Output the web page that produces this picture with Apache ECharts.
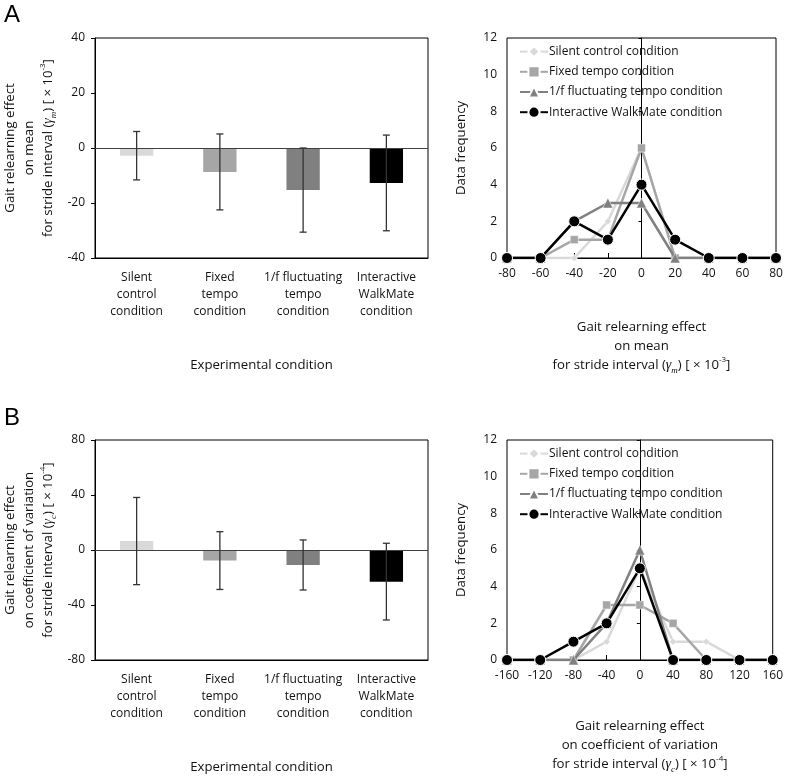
<!DOCTYPE html>
<html>
<head>
<meta charset="utf-8">
<script src="https://cdn.jsdelivr.net/npm/echarts@6/dist/echarts.min.js"></script>
<style>
html,body{margin:0;padding:0;background:#fff;}
#c{width:786px;height:780px;}
</style>
</head>
<body>
<div id="c"></div>
<script>
// ---------- data ----------
const categories = ['Silent\ncontrol\ncondition', 'Fixed\ntempo\ncondition', '1/f fluctuating\ntempo\ncondition', 'Interactive\nWalkMate\ncondition'];
const barColors = ['#d9d9d9', '#a6a6a6', '#808080', '#000000'];
// Panel A (mean, x10^-3)
const meanA = [-2.8, -8.7, -15.3, -12.7];
const sdA = [8.8, 13.8, 15.3, 17.4];
// Panel B (coefficient of variation, x10^-4)
const meanB = [6.5, -7.7, -10.9, -23.0];
const sdB = [31.7, 21.0, 18.2, 27.9];

const seriesNames = ['Silent control condition', 'Fixed tempo condition', '1/f fluctuating tempo condition', 'Interactive WalkMate condition'];
const lineColors = ['#d9d9d9', '#a6a6a6', '#808080', '#000000'];
const symbols = ['diamond', 'rect', 'triangle', 'circle'];
const symbolSizes = [7, 8, 10, 11];

const binsA = [-80, -60, -40, -20, 0, 20, 40, 60, 80];
const freqA_silent = [0, 0, 0, 2, 6, 0, 0, 0, 0];
const freqA_fixed  = [0, 0, 1, 1, 6, 0, 0, 0, 0];
const freqA_fluct  = [0, 0, 2, 3, 3, 0, 0, 0, 0];
const freqA_walk   = [0, 0, 2, 1, 4, 1, 0, 0, 0];

const binsB = [-160, -120, -80, -40, 0, 40, 80, 120, 160];
const freqB_silent = [0, 0, 0, 1, 5, 1, 1, 0, 0];
const freqB_fixed  = [0, 0, 0, 3, 3, 2, 0, 0, 0];
const freqB_fluct  = [0, 0, 0, 2, 6, 0, 0, 0, 0];
const freqB_walk   = [0, 0, 1, 2, 5, 0, 0, 0, 0];

// ---------- styling ----------
const FONT = 'Open Sans';
const TXT = '#111';
const FS = 12;     // ticks, categories, legend
const FT = 13.2;   // axis titles

const chart = echarts.init(document.getElementById('c'), null, {renderer: 'canvas'});

const rich = {
  n: {fontFamily: FONT, fontSize: FT, lineHeight: 19, color: TXT},
  g: {fontFamily: 'Liberation Serif', fontStyle: 'italic', fontSize: 14, lineHeight: 19, color: TXT},
  s: {fontFamily: 'Liberation Serif', fontStyle: 'italic', fontSize: 9, lineHeight: 9, verticalAlign: 'bottom', color: TXT},
  p: {fontFamily: FONT, fontSize: 8, lineHeight: 9, verticalAlign: 'top', color: TXT}
};

const nameMeanA = '{n|Gait relearning effect}\n{n|on mean}\n{n|for stride interval (}{g|γ}{s|m}{n|) [ × 10}{p|-3}{n|]}';
const nameCvB = '{n|Gait relearning effect}\n{n|on coefficient of variation}\n{n|for stride interval (}{g|γ}{s|c}{n|) [ × 10}{p|-4}{n|]}';

const grids = [
  {left: 95, top: 38, width: 333, height: 220},
  {left: 507, top: 38, width: 269, height: 220},
  {left: 95, top: 440, width: 333, height: 220},
  {left: 507, top: 440, width: 269, height: 220}
].map(g => Object.assign({show: true, borderColor: '#000', borderWidth: 1, backgroundColor: 'transparent', containLabel: false}, g));

function barXAxis(gi) {
  return {
    type: 'category', gridIndex: gi, data: categories,
    axisLine: {show: true, onZero: false, lineStyle: {color: '#000', width: 1}},
    axisTick: {show: false},
    axisLabel: {color: TXT, fontFamily: FONT, fontSize: FS, lineHeight: 17, margin: 11, interval: 0},
    name: 'Experimental condition', nameLocation: 'middle', nameGap: 101,
    nameTextStyle: {color: TXT, fontFamily: FONT, fontSize: FT}
  };
}
function barYAxis(gi, min, max, interval, name) {
  return {
    type: 'value', gridIndex: gi, min: min, max: max, interval: interval,
    axisLine: {show: true, lineStyle: {color: '#000', width: 1}},
    axisTick: {show: true, length: 4, lineStyle: {color: '#000'}},
    axisLabel: {color: TXT, fontFamily: FONT, fontSize: FS, margin: 10},
    splitLine: {show: false},
    name: name, nameLocation: 'middle', nameGap: 37, nameRotate: 90,
    nameTextStyle: {rich: rich, align: 'center'}
  };
}
function lineXAxis(gi, min, max, interval, name, gap) {
  return {
    type: 'value', gridIndex: gi, min: min, max: max, interval: interval,
    axisLine: {show: true, onZero: false, lineStyle: {color: '#000', width: 1}},
    axisTick: {show: true, inside: true, length: 5, lineStyle: {color: '#000'}},
    axisLabel: {color: TXT, fontFamily: FONT, fontSize: FS, margin: 10},
    splitLine: {show: false},
    name: name, nameLocation: 'middle', nameGap: gap,
    nameTextStyle: {rich: rich, align: 'center'}
  };
}
function lineYAxisLabels(gi) {
  return {
    type: 'value', gridIndex: gi, min: 0, max: 12, interval: 2, position: 'left',
    axisLine: {show: false, onZero: false},
    axisTick: {show: false},
    axisLabel: {color: TXT, fontFamily: FONT, fontSize: FS, margin: 10},
    splitLine: {show: false},
    name: 'Data frequency', nameLocation: 'middle', nameGap: 39, nameRotate: 90,
    nameTextStyle: {color: TXT, fontFamily: FONT, fontSize: FT}
  };
}
function lineYAxisZero(gi) {
  return {
    type: 'value', gridIndex: gi, min: 0, max: 12, interval: 2, position: 'left',
    axisLine: {show: true, onZero: true, lineStyle: {color: '#000', width: 1}},
    axisTick: {show: true, length: 3, lineStyle: {color: '#000'}},
    axisLabel: {show: false},
    splitLine: {show: false}
  };
}

function errorSeries(xi, yi, means, sds) {
  return {
    type: 'custom', xAxisIndex: xi, yAxisIndex: yi, z: 5,
    data: means.map((m, i) => [i, m, sds[i]]),
    renderItem: function (params, api) {
      const x = api.value(0), m = api.value(1), e = api.value(2);
      const top = api.coord([x, m + e]);
      const bot = api.coord([x, m - e]);
      const hw = 3.5;
      const st = {stroke: '#333', lineWidth: 1.3};
      return {
        type: 'group', children: [
          {type: 'line', shape: {x1: top[0], y1: top[1], x2: bot[0], y2: bot[1]}, style: st},
          {type: 'line', shape: {x1: top[0] - hw, y1: top[1], x2: top[0] + hw, y2: top[1]}, style: st},
          {type: 'line', shape: {x1: bot[0] - hw, y1: bot[1], x2: bot[0] + hw, y2: bot[1]}, style: st}
        ]
      };
    }
  };
}

function barSeries(xi, yi, means) {
  return {
    type: 'bar', xAxisIndex: xi, yAxisIndex: yi, barWidth: '40%',
    data: means.map((v, i) => ({value: v, itemStyle: {color: barColors[i]}})),
    markLine: {
      silent: true, symbol: 'none', label: {show: false},
      lineStyle: {color: '#404040', width: 1.2, type: 'solid'},
      data: [{yAxis: 0}]
    },
    z: 2
  };
}

function lineSeries(xi, yi, bins, freqs) {
  return freqs.map((f, k) => ({
    type: 'line', name: seriesNames[k], xAxisIndex: xi, yAxisIndex: yi,
    data: bins.map((b, i) => [b, f[i]]),
    symbol: symbols[k], symbolSize: symbolSizes[k], showAllSymbol: true,
    lineStyle: {color: lineColors[k], width: 2.5},
    itemStyle: {color: lineColors[k], borderColor: '#fff', borderWidth: k === 3 ? 1 : 0.5},
    z: 3 + k
  }));
}

const legendCommon = {
  orient: 'vertical', itemWidth: 28, itemHeight: 14, itemGap: 7,
  textStyle: {color: TXT, fontFamily: FONT, fontSize: FS, padding: [0, 0, 0, -4]},
  data: seriesNames, selectedMode: false
};

const option = {
  animation: false,
  backgroundColor: '#fff',
  grid: grids,
  xAxis: [
    barXAxis(0),
    lineXAxis(1, -80, 80, 20, nameMeanA, 60),
    barXAxis(2),
    lineXAxis(3, -160, 160, 40, nameCvB, 57)
  ],
  yAxis: [
    barYAxis(0, -40, 40, 20, nameMeanA),
    lineYAxisLabels(1),
    lineYAxisZero(1),
    barYAxis(2, -80, 80, 40, nameCvB),
    lineYAxisLabels(3),
    lineYAxisZero(3)
  ],
  legend: [
    Object.assign({left: 514, top: 40}, legendCommon),
    Object.assign({left: 514, top: 442}, legendCommon)
  ],
  graphic: [
    {type: 'text', left: 4, top: 3, style: {text: 'A', fontFamily: 'Liberation Sans', fontSize: 24, fill: '#000'}},
    {type: 'text', left: 4, top: 406, style: {text: 'B', fontFamily: 'Liberation Sans', fontSize: 24, fill: '#000'}}
  ],
  series: [
    barSeries(0, 0, meanA),
    errorSeries(0, 0, meanA, sdA),
    ...lineSeries(1, 1, binsA, [freqA_silent, freqA_fixed, freqA_fluct, freqA_walk]),
    barSeries(2, 3, meanB),
    errorSeries(2, 3, meanB, sdB),
    ...lineSeries(3, 4, binsB, [freqB_silent, freqB_fixed, freqB_fluct, freqB_walk])
  ]
};
chart.setOption(option);
</script>
</body>
</html>
